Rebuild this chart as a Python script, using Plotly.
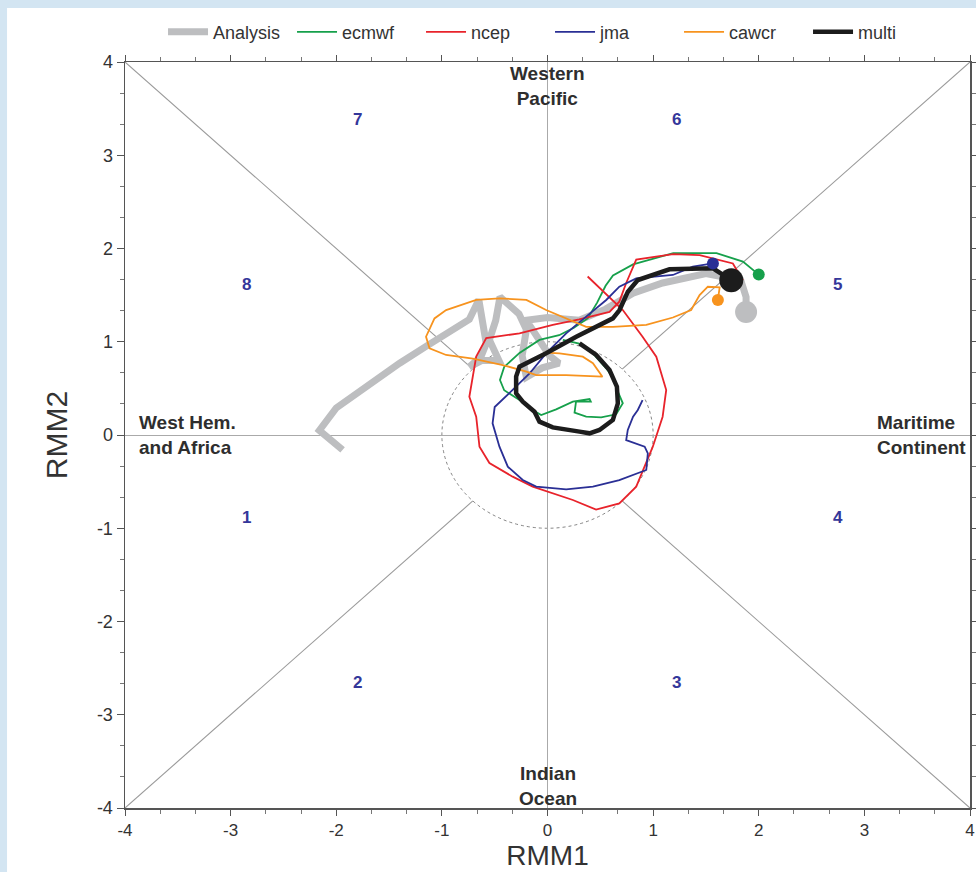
import plotly.graph_objects as go
import math

# ---------------- data (RMM1, RMM2) ----------------
analysis_x = [-1.94, -2.16, -2.00, -1.72, -1.40, -1.15, -0.96, -0.74, -0.65, -0.61, -0.58, -0.63, -0.74,
              -0.62, -0.46, -0.55, -0.49, -0.45, -0.27, -0.20, -0.24, -0.20, -0.05, 0.11, 0.02, -0.20,
              0.00, 0.30, 0.55, 0.81, 1.09, 1.50, 1.83, 1.88, 1.88]
analysis_y = [-0.16, 0.05, 0.29, 0.52, 0.77, 0.95, 1.09, 1.24, 1.45, 1.20, 0.98, 0.84, 0.73,
              0.80, 0.80, 1.02, 1.23, 1.48, 1.30, 1.13, 0.85, 0.62, 0.72, 0.77, 0.85, 1.23,
              1.26, 1.23, 1.35, 1.52, 1.63, 1.73, 1.66, 1.48, 1.32]

ecmwf_x = [2.00, 1.85, 1.60, 1.19, 0.81, 0.62, 0.55, 0.47, 0.38, 0.25, 0.11, -0.076, -0.265, -0.41,
           -0.45, -0.41, -0.265, -0.14, -0.06, 0.082, 0.24, 0.398, 0.41, 0.27, 0.256, 0.366, 0.508,
           0.65, 0.713, 0.666, 0.634, 0.556, 0.43, 0.30, 0.145]
ecmwf_y = [1.72, 1.86, 1.95, 1.95, 1.83, 1.71, 1.60, 1.42, 1.25, 1.15, 1.07, 1.02, 0.88, 0.73,
           0.59, 0.48, 0.375, 0.268, 0.214, 0.275, 0.357, 0.386, 0.357, 0.357, 0.239, 0.196, 0.19,
           0.222, 0.34, 0.465, 0.59, 0.715, 0.876, 0.98, 1.02]

ncep_x = [1.85, 1.755, 1.44, 1.19, 0.84, 0.745, 0.68, 0.587, 0.30, 0.05, -0.265, -0.58, -0.675,
          -0.707, -0.74, -0.675, -0.644, -0.55, -0.33, -0.14, 0.05, 0.24, 0.46, 0.68, 0.84, 0.935,
          0.997, 1.09, 1.124, 1.03, 0.90, 0.713, 0.38]
ncep_y = [1.66, 1.84, 1.93, 1.94, 1.88, 1.63, 1.43, 1.32, 1.24, 1.18, 1.09, 1.04, 0.84,
          0.625, 0.41, 0.196, -0.125, -0.30, -0.447, -0.554, -0.625, -0.697, -0.80, -0.733, -0.554, -0.30,
          -0.125, 0.196, 0.483, 0.84, 1.054, 1.34, 1.70]

jma_x = [1.566, 1.376, 1.187, 0.84, 0.68, 0.556, 0.366, 0.177, -0.013, -0.17, -0.33, -0.50, -0.52,
         -0.455, -0.376, -0.234, -0.107, 0.177, 0.43, 0.68, 0.935, 0.95, 0.92, 0.84, 0.745, 0.76,
         0.81, 0.855, 0.90]
jma_y = [1.84, 1.805, 1.716, 1.68, 1.59, 1.448, 1.27, 1.09, 0.876, 0.66, 0.483, 0.30, 0.125,
         -0.125, -0.34, -0.483, -0.554, -0.583, -0.554, -0.483, -0.375, -0.197, -0.125, -0.09, -0.054, 0.054,
         0.196, 0.268, 0.375]

cawcr_x = [1.613, 1.63, 1.518, 1.44, 1.36, 1.187, 0.935, 0.62, 0.366, 0.177, -0.013, -0.20, -0.455,
           -0.675, -0.96, -1.07, -1.15, -1.117, -0.96, -0.707, -0.423, -0.20, -0.107, 0.177, 0.52,
           0.43, 0.334, 0.114, -0.013]
cawcr_y = [1.448, 1.584, 1.59, 1.50, 1.34, 1.26, 1.18, 1.16, 1.16, 1.25, 1.34, 1.448, 1.466,
           1.448, 1.34, 1.25, 1.054, 0.93, 0.858, 0.82, 0.75, 0.68, 0.643, 0.643, 0.625,
           0.77, 0.84, 0.876, 0.883]

multi_x = [1.74, 1.566, 1.155, 0.855, 0.761, 0.682, 0.619, 0.461, 0.272, -0.013, -0.265, -0.297, -0.297,
           -0.234, -0.123, -0.076, 0.050, 0.303, 0.398, 0.492, 0.619, 0.666, 0.657, 0.587, 0.461, 0.303]
multi_y = [1.66, 1.788, 1.777, 1.662, 1.537, 1.340, 1.251, 1.162, 1.054, 0.876, 0.733, 0.626, 0.447,
           0.357, 0.250, 0.143, 0.082, 0.036, 0.018, 0.054, 0.161, 0.340, 0.518, 0.697, 0.858, 0.983]

phase_labels = ["1", "2", "3", "4", "5", "6", "7", "8"]
phase_x = [-2.85, -1.8, 1.22, 2.75, 2.75, 1.22, -1.8, -2.85]
phase_y = [-0.88, -2.65, -2.65, -0.88, 1.61, 3.38, 3.38, 1.61]

region_labels = ["Western<br>Pacific", "Indian<br>Ocean", "West Hem.<br>and Africa", "Maritime<br>Continent"]
region_x = [0.0, 0.0, -3.89, 3.98]
region_y = [3.74, -3.76, 0.0, 0.0]
region_anchor = ["center", "center", "left", "right"]

tick_vals = [-4, -3, -2, -1, 0, 1, 2, 3, 4]

FONT = "Liberation Sans, Arial, Helvetica"

# ---------------- figure ----------------
fig = go.Figure()

series = [
    ("Analysis", analysis_x, analysis_y, "#bdbec0", 7),
    ("ecmwf", ecmwf_x, ecmwf_y, "#16a04b", 1.8),
    ("ncep", ncep_x, ncep_y, "#e8232b", 1.8),
    ("jma", jma_x, jma_y, "#2a2f95", 1.8),
    ("cawcr", cawcr_x, cawcr_y, "#f7931e", 1.8),
    ("multi", multi_x, multi_y, "#1c1c1c", 4.5),
]
for name, xs, ys, col, w in series:
    fig.add_trace(go.Scatter(x=xs, y=ys, mode="lines", name=name,
                             line=dict(color=col, width=w, shape="linear"),
                             hoverinfo="skip"))

# start / end dots
dots = [
    (analysis_x[-1], analysis_y[-1], "#bdbec0", 22),
    (ecmwf_x[0], ecmwf_y[0], "#16a04b", 12),
    (jma_x[0], jma_y[0], "#2a2f95", 12),
    (cawcr_x[0], cawcr_y[0], "#f7931e", 12),
    (multi_x[0], multi_y[0], "#1c1c1c", 24),
]
for dx, dy, col, s in dots:
    fig.add_trace(go.Scatter(x=[dx], y=[dy], mode="markers", showlegend=False,
                             marker=dict(color=col, size=s, line=dict(width=0)),
                             hoverinfo="skip"))

# octant diagonals (outside unit circle) and unit circle
r = 1 / math.sqrt(2)
shapes = []
# slide background frame (white page with light-blue slide border at left/top)
shapes.append(dict(type="rect", xref="paper", yref="paper", x0=-0.1396, x1=1.03, y0=-0.11, y1=1.0724,
                   fillcolor="white", line=dict(width=0), layer="below"))
for sx, sy in [(1, 1), (-1, 1), (-1, -1), (1, -1)]:
    shapes.append(dict(type="line", xref="x", yref="y", x0=4 * sx, y0=4 * sy, x1=r * sx, y1=r * sy,
                       line=dict(color="#999999", width=1.1), layer="below"))
shapes.append(dict(type="circle", xref="x", yref="y", x0=-1, y0=-1, x1=1, y1=1,
                   line=dict(color="#666666", width=0.8, dash="dot"), layer="below"))

annotations = []
for t, px, py in zip(phase_labels, phase_x, phase_y):
    annotations.append(dict(x=px, y=py, xref="x", yref="y", text="<b>%s</b>" % t, showarrow=False,
                            font=dict(family=FONT, size=17, color="#34379a")))
for t, px, py, anc in zip(region_labels, region_x, region_y, region_anchor):
    annotations.append(dict(x=px, y=py, xref="x", yref="y", text="<b>%s</b>" % t, showarrow=False,
                            xanchor=anc, align="center" if anc == "center" else "left",
                            font=dict(family=FONT, size=19, color="#2e2e2e")))

axis_common = dict(
    range=[-4, 4], tickvals=tick_vals, ticktext=[str(v) for v in tick_vals],
    showgrid=False, zeroline=True, zerolinecolor="#aaaaaa", zerolinewidth=1,
    showline=True, linecolor="#555555", linewidth=1.5, mirror="ticks",
    ticks="outside", ticklen=7, tickwidth=1, tickcolor="#555555",
    minor=dict(dtick=1 / 3, tick0=-4, ticks="outside", ticklen=4, tickcolor="#777777", showgrid=False),
    tickfont=dict(family=FONT, size=18, color="#333333"),
    fixedrange=True, automargin=False,
)

fig.update_layout(
    width=976, height=872,
    margin=dict(l=125, r=6, t=62, b=64, autoexpand=False),
    paper_bgcolor="#d3e5f2", plot_bgcolor="white",
    xaxis=dict(axis_common, ticklen=6, tickfont=dict(family=FONT, size=17, color="#333333"),
               title=dict(text="RMM1", standoff=5,
                          font=dict(family=FONT, size=28, color="#333333"))),
    yaxis=dict(axis_common, title=dict(text="RMM2", standoff=20,
                                       font=dict(family=FONT, size=30, color="#333333"))),
    shapes=shapes, annotations=annotations,
    showlegend=True,
    legend=dict(orientation="h", x=0.045, xanchor="left", y=1.04, yanchor="middle",
                font=dict(family=FONT, size=18, color="#333333"),
                bgcolor="rgba(0,0,0,0)", itemwidth=40, entrywidth=74, entrywidthmode="pixels",
                tracegroupgap=0, traceorder="normal"),
)

fig.write_html("out.html", config={"displayModeBar": False, "staticPlot": True},
               post_script="document.body.style.margin='0px';document.body.style.overflow='hidden';"
                           "document.body.style.background='#d3e5f2';")
